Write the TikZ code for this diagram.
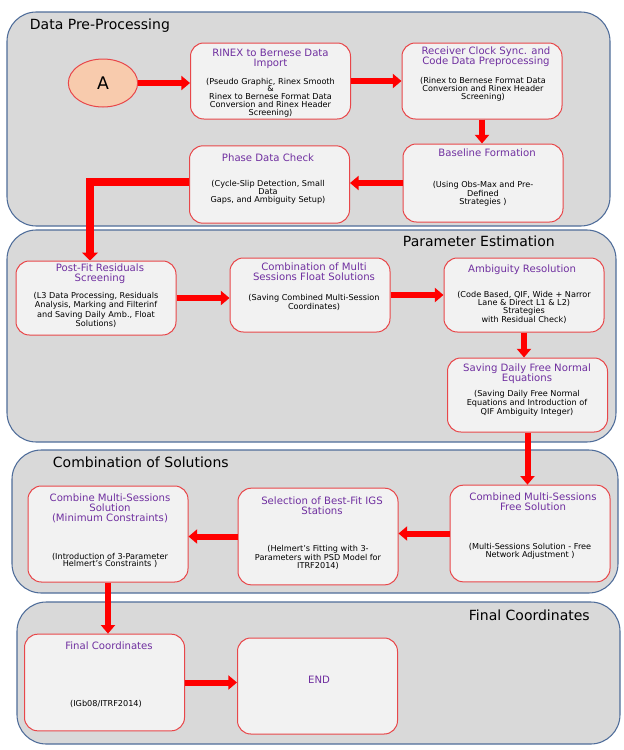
\documentclass[tikz,border=0pt]{standalone}
\usepackage{fontspec}
\setmainfont{DejaVu Sans}
\usetikzlibrary{arrows.meta,shapes.geometric}

\definecolor{panelfill}{RGB}{217,217,217}
\definecolor{panelline}{RGB}{79,109,154}
\definecolor{boxline}{RGB}{232,71,74}
\definecolor{boxfill}{RGB}{242,242,242}
\definecolor{titlepurple}{RGB}{112,48,160}
\definecolor{flowred}{RGB}{255,0,0}
\definecolor{startfill}{RGB}{248,203,173}

\tikzset{every picture/.style={line width=0.75pt}}
\tikzset{
  panel/.style={draw=panelline, fill=panelfill, rounded corners=22pt, line width=0.8pt},
  paneltitle/.style={anchor=west, font=\fontsize{10.5}{11}\selectfont},
  procbox/.style={draw=boxline, fill=boxfill, rounded corners=10pt, minimum width=120pt, minimum height=57pt, inner sep=0pt},
  boxtitle/.style={align=center, text=titlepurple, font=\fontsize{7.6}{7.6}\selectfont},
  boxbody/.style={align=center, font=\fontsize{6.1}{5.9}\selectfont},
  flow/.style={draw=flowred, line width=4.5pt, -{Triangle[width=10.5pt,length=6.5pt]}},
  bigflow/.style={draw=flowred, line width=6.5pt, -{Triangle[width=12pt,length=6pt]}}
}

\begin{document}
\begin{tikzpicture}[x=0.75pt,y=0.75pt,yscale=-1,xscale=1]
	\useasboundingbox (0,0) rectangle (624,750);

	%Panels
	\draw [panel] (7,12) rectangle (610,226) ;
	\draw [panel] (7,230) rectangle (616,442) ;
	\draw [panel] (12,450) rectangle (618,593) ;
	\draw [panel] (17,602) rectangle (620,744) ;

	% Panel titles
	\node [paneltitle] (tpre) at (25,26) {Data Pre-Processing};
	\node [paneltitle] (tpar) at (398,241) {Parameter Estimation};
	\node [paneltitle] (tcomb) at (48,462) {Combination of Solutions};
	\node [paneltitle] (tfin) at (464,615) {Final Coordinates};

	%Start ellipse
	\node [ellipse, draw=boxline, fill=startfill, minimum width=52pt, minimum height=36pt, font=\fontsize{13}{13}\selectfont] (start) at (103,83) {A};

	%Data pre-processing boxes
	\node [procbox] (rinex) at (270.5,81) {};
	\node [boxtitle] (rinexT) at (270.5,58.5) {RINEX to Bernese Data\\Import};
	\node [boxbody] (rinexB) at (270.5,97.5) {(Pseudo Graphic, Rinex Smooth\\\&\\Rinex to Bernese Format Data\\Conversion and Rinex Header\\Screening)};

	\node [procbox] (recv) at (482,81) {};
	\node [boxtitle] (recvT) at (486,56.5) {Receiver Clock Sync. and\\Code Data Preprocessing};
	\node [boxbody] (recvB) at (483,89.5) {(Rinex to Bernese Format Data\\Conversion and Rinex Header\\Screening)};

	\node [procbox, minimum height=58.5pt] (base) at (483,183) {};
	\node [boxtitle] (baseT) at (487,153) {Baseline Formation};
	\node [boxbody] (baseB) at (483,193.5) {(Using Obs-Max and Pre-\\Defined\\Strategies )};

	\node [procbox, minimum height=58pt] (phase) at (269.5,184.5) {};
	\node [boxtitle] (phaseT) at (268,158) {Phase Data Check};
	\node [boxbody] (phaseB) at (268,192.5) {(Cycle-Slip Detection, Small\\Data\\Gaps, and Ambiguity Setup)};

	%Parameter estimation boxes
	\node [procbox, minimum height=55.5pt] (postfit) at (96,298) {};
	\node [boxtitle] (postfitT) at (100,274) {Post-Fit Residuals\\Screening};
	\node [boxbody] (postfitB) at (96,310) {(L3 Data Processing, Residuals\\Analysis, Marking and Filterinf\\and Saving Daily Amb., Float\\Solutions)};

	\node [procbox, minimum height=55.5pt] (combfloat) at (310,295) {};
	\node [boxtitle] (combfloatT) at (314,271.5) {Combination of Multi\\Sessions Float Solutions};
	\node [boxbody] (combfloatB) at (314,302.5) {(Saving Combined Multi-Session\\Coordinates)};

	\node [procbox, minimum height=55.5pt] (ambig) at (524,295) {};
	\node [boxtitle] (ambigT) at (522,270) {Ambiguity Resolution};
	\node [boxbody] (ambigB) at (524,307.5) {(Code Based, QIF, Wide + Narror\\Lane \& Direct L1 \& L2)\\Strategies\\with Residual Check)};

	\node [procbox, minimum height=55.5pt] (savene) at (527.5,395) {};
	\node [boxtitle] (saveneT) at (527,374) {Saving Daily Free Normal\\Equations};
	\node [boxbody] (saveneB) at (527,403.5) {(Saving Daily Free Normal\\Equations and Introduction of\\QIF Ambiguity Integer)};

	%Combination of solutions boxes
	\node [procbox, minimum height=72pt] (combmin) at (108,534) {};
	\node [boxtitle] (combminT) at (110,508.5) {Combine Multi-Sessions\\Solution\\(Minimum Constraints)};
	\node [boxbody] (combminB) at (110,560.5) {(Introduction of 3-Parameter\\Helmert's Constraints )};

	\node [procbox, minimum height=72.5pt] (bestfit) at (318,536.5) {};
	\node [boxtitle] (bestfitT) at (322,505.5) {Selection of Best-Fit IGS\\Stations};
	\node [boxbody] (bestfitB) at (318,557) {(Helmert's Fitting with 3-\\Parameters with PSD Model for\\ITRF2014)};

	\node [procbox, minimum height=72.5pt] (freesol) at (530,533.5) {};
	\node [boxtitle] (freesolT) at (533,502) {Combined Multi-Sessions\\Free Solution};
	\node [boxbody] (freesolB) at (530,551.5) {(Multi-Sessions Solution - Free\\Network Adjustment )};

	%Final coordinates boxes
	\node [procbox, minimum height=72.5pt] (finalc) at (104.5,682.5) {};
	\node [boxtitle] (finalcT) at (109,646) {Final Coordinates};
	\node [boxbody] (finalcB) at (106,704) {(IGb08/ITRF2014)};

	\node [procbox, minimum height=72pt] (endbox) at (317.5,686) {};
	\node [boxtitle] (endboxT) at (319,680) {END};

	%Connectors
	\draw [flow] (start.east) -- (start.east -| rinex.west) ;
	\draw [flow] (rinex.east) -- (rinex.east -| recv.west) ;
	\draw [flow] (recv.south) -- (recv.south |- base.north) ;
	\draw [flow] (base.west) -- (base.west -| phase.east) ;
	\coordinate (bend) at (90,182) ;
	\draw [bigflow] (phase.west |- bend) -- (bend) -- (bend |- postfit.north) ;
	\draw [flow] (postfit.east) -- (postfit.east -| combfloat.west) ;
	\draw [flow] (combfloat.east) -- (combfloat.east -| ambig.west) ;
	\draw [flow] (ambig.south) -- (ambig.south |- savene.north) ;
	\draw [flow] (savene.south) -- (savene.south |- freesol.north) ;
	\draw [flow] (freesol.west) -- (freesol.west -| bestfit.east) ;
	\draw [flow] (bestfit.west) -- (bestfit.west -| combmin.east) ;
	\draw [flow] (combmin.south) -- (combmin.south |- finalc.north) ;
	\draw [flow] (finalc.east) -- (finalc.east -| endbox.west) ;

\end{tikzpicture}
\end{document}
